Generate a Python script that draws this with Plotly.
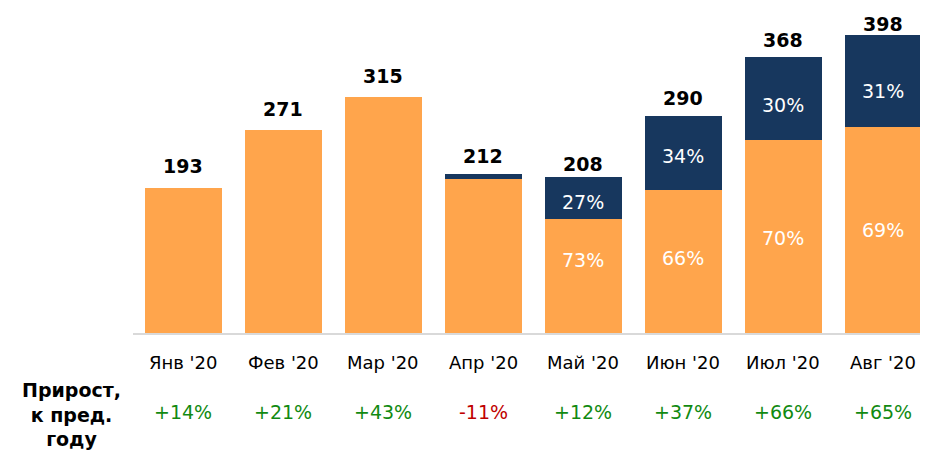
import plotly.graph_objects as go

months = ["Янв '20", "Фев '20", "Мар '20", "Апр '20", "Май '20", "Июн '20", "Июл '20", "Авг '20"]
totals = [193, 271, 315, 212, 208, 290, 368, 398]
navy_share = [0, 0, 0, 3, 27, 34, 30, 31]  # percent of total
growth = ["+14%", "+21%", "+43%", "-11%", "+12%", "+37%", "+66%", "+65%"]

# label placement tweaks (pixels), style only
total_label_shift = [9.5, 8.5, 8, 5, 0, 5, 4.7, -2]
orange_label_shift = [0, 0, 0, 0, 16, 3, -1, 0]
navy_label_shift = [0, 0, 0, 0, -4, -3, -6, -10]

ORANGE = "#FFA54C"
NAVY = "#17375E"
GREEN = "#118A11"
RED = "#C00000"
FONT = "DejaVu Sans"

x = list(range(len(months)))
orange_vals = [t * (100 - s) / 100 for t, s in zip(totals, navy_share)]
navy_vals = [t * s / 100 for t, s in zip(totals, navy_share)]

fig = go.Figure()
fig.add_trace(go.Bar(x=x, y=orange_vals, marker=dict(color=ORANGE, line=dict(width=0)),
                     width=0.77, hoverinfo="skip"))
fig.add_trace(go.Bar(x=x, y=navy_vals, marker=dict(color=NAVY, line=dict(width=0)),
                     width=0.77, hoverinfo="skip"))

ann = []
for i, t in enumerate(totals):
    ann.append(dict(x=i, y=t, xref="x", yref="y", text=f"<b>{t}</b>", showarrow=False,
                    yanchor="bottom", yshift=total_label_shift[i],
                    font=dict(family=FONT, size=19, color="black")))
    s = navy_share[i]
    if s >= 10:
        ann.append(dict(x=i, y=orange_vals[i] / 2, xref="x", yref="y", text=f"{100 - s}%",
                        showarrow=False, yshift=orange_label_shift[i],
                        font=dict(family=FONT, size=19, color="white")))
        ann.append(dict(x=i, y=orange_vals[i] + navy_vals[i] / 2, xref="x", yref="y",
                        text=f"{s}%", showarrow=False, yshift=navy_label_shift[i],
                        font=dict(family=FONT, size=19, color="white")))
    ann.append(dict(x=i, y=0, xref="x", yref="paper", text=months[i], showarrow=False,
                    yanchor="middle", yshift=-29, font=dict(family=FONT, size=18, color="black")))
    ann.append(dict(x=i, y=0, xref="x", yref="paper", text=growth[i], showarrow=False,
                    yanchor="middle", yshift=-79,
                    font=dict(family=FONT, size=19, color=RED if growth[i].startswith("-") else GREEN)))

ann.append(dict(x=-62 / 795, y=0, xref="paper", yref="paper",
                text="<b>Прирост,<br>к пред.<br>году</b>", showarrow=False,
                xanchor="center", yanchor="middle", yshift=-81, align="center",
                font=dict(family=FONT, size=19, color="black")))

fig.update_layout(
    width=920, height=442,
    margin=dict(l=125, r=0, t=0, b=117),
    barmode="stack",
    showlegend=False,
    plot_bgcolor="white", paper_bgcolor="white",
    xaxis=dict(range=[-0.5, 7.45], showticklabels=False, showgrid=False, zeroline=False,
               showline=True, linecolor="#D9D9D9", linewidth=2, fixedrange=True),
    yaxis=dict(range=[0, 433.9], visible=False, showgrid=False, fixedrange=True),
    annotations=ann,
)

fig.write_html("out.html")
